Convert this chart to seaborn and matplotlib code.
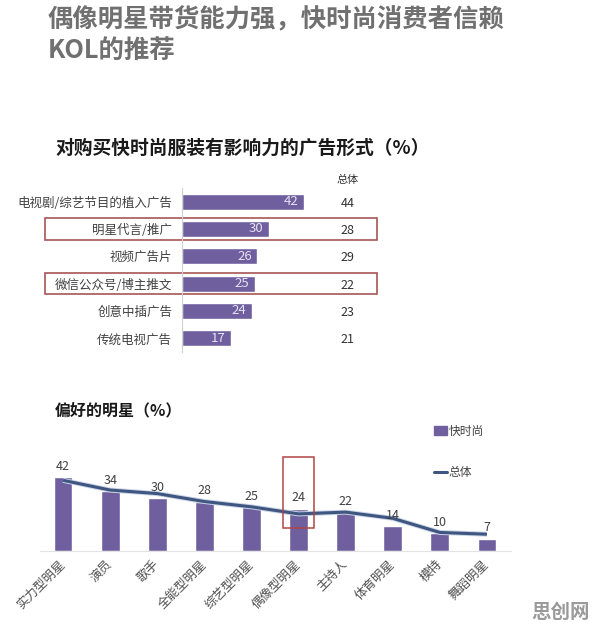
import numpy as np
import matplotlib
matplotlib.use("Agg")
import matplotlib.pyplot as plt
import matplotlib.transforms as mtransforms
import matplotlib.patheffects as pe
from matplotlib.patches import Rectangle, Patch
from matplotlib.lines import Line2D
import seaborn as sns

# 数据
ad_types = ["电视剧/综艺节目的植入广告", "明星代言/推广", "视频广告片",
            "微信公众号/博主推文", "创意中插广告", "传统电视广告"]
ad_fast = [42, 30, 26, 25, 24, 17]
ad_total = [44, 28, 29, 22, 23, 21]

stars = ["实力型明星", "演员", "歌手", "全能型明星", "综艺型明星",
         "偶像型明星", "主持人", "体育明星", "模特", "舞蹈明星"]
star_fast = [42, 34, 30, 28, 25, 24, 22, 14, 10, 7]
star_total = [40, 34.5, 32.5, 28, 25, 21, 22, 18.5, 10.5, 9.5]

PURPLE = "#6f5f9f"
LINE = "#3e5680"
W, H = 596, 632

sns.set_style("white")
plt.rcParams["font.family"] = ["Noto Sans CJK SC", "DejaVu Sans"]


def box(l, t, r, b):
    return [l / W, 1 - b / H, (r - l) / W, (b - t) / H]


fig = plt.figure(figsize=(W / 100, H / 100), dpi=100)

# 标题
fig.text(48 / W, 1 - 20 / H, "偶像明星带货能力强，快时尚消费者信赖",
         fontsize=18.3, weight="bold", color="#707070", va="center")
fig.text(48 / W, 1 - 50 / H, "KOL的推荐",
         fontsize=18.3, weight="bold", color="#707070", va="center")

# 1) 广告形式
fig.text(55 / W, 1 - 148 / H, "对购买快时尚服装有影响力的广告形式（%）",
         fontsize=13.5, weight="bold", color="#1a1a1a", va="center")

ax1 = fig.add_axes(box(182, 188, 330, 352))
sns.barplot(x=ad_fast, y=ad_types, orient="h", color=PURPLE,
            saturation=1, width=0.58, ax=ax1)
ax1.set_xlim(0, 51)
ax1.set_ylim(5.5, -0.5)
ax1.set_xlabel("")
ax1.set_ylabel("")
ax1.xaxis.set_visible(False)
for s in ["top", "right", "bottom"]:
    ax1.spines[s].set_visible(False)
ax1.spines["left"].set_color("#d0d0d0")
ax1.tick_params(axis="y", which="major", length=0, pad=7,
                labelsize=9, labelcolor="#404040")
ax1.set_yticks(np.arange(-0.5, len(ad_types), 1), minor=True)
ax1.tick_params(axis="y", which="minor", length=3, color="#cccccc")

for i, v in enumerate(ad_fast):
    ax1.annotate(str(v), (v, i), xytext=(-4, 0), textcoords="offset points",
                 ha="right", va="center", fontsize=9.5, color="#e6e3f2")

trans = mtransforms.blended_transform_factory(ax1.transAxes, ax1.transData)
ax1.text(1.12, -0.8, "总体", transform=trans, ha="center", va="center",
         fontsize=8, color="#333333")
for i, v in enumerate(ad_total):
    ax1.text(1.12, i + 0.05, str(v), transform=trans, ha="center",
             va="center", fontsize=9, color="#333333")

for row in [1, 3]:
    ax1.add_patch(Rectangle((-0.926, row - 0.39), 2.244, 0.78,
                            transform=trans, fill=False, ec="#a85555",
                            lw=1.2, clip_on=False))

# 2) 偏好的明星
fig.text(55 / W, 1 - 410 / H, "偏好的明星（%）",
         fontsize=11.5, weight="bold", color="#1a1a1a", va="center")

ax2 = fig.add_axes(box(39.5, 445, 510.5, 551))
sns.barplot(x=stars, y=star_fast, color=PURPLE, saturation=1,
            width=0.4, ax=ax2)
ax2.plot(np.arange(len(stars)), star_total, color=LINE, lw=2.2,
         solid_capstyle="butt",
         path_effects=[pe.Stroke(linewidth=3.6, foreground="#c9d3e6"),
                       pe.Normal()])
ax2.bar_label(ax2.containers[0], padding=3, fontsize=9, color="#404040")
ax2.set_ylim(0, 60)
ax2.set_xlim(-0.5, len(stars) - 0.5)
ax2.set_xlabel("")
ax2.set_ylabel("")
ax2.yaxis.set_visible(False)
for s in ["top", "right", "left"]:
    ax2.spines[s].set_visible(False)
ax2.spines["bottom"].set_color("#e3e3e3")
ax2.tick_params(axis="x", length=0, pad=8, labelsize=9, labelcolor="#505050")
for lab in ax2.get_xticklabels():
    lab.set_rotation(45)
    lab.set_ha("right")
    lab.set_va("center")
    lab.set_rotation_mode("anchor")

ax2.add_patch(Rectangle((4.67, 13), 0.66, 40, fill=False, ec="#b04545",
                        lw=1.1, zorder=5, clip_on=False))

handles = [Patch(color=PURPLE), Line2D([], [], color=LINE, lw=2.2)]
fig.legend(handles, ["快时尚", "总体"], loc="upper left",
           bbox_to_anchor=(423 / W, 1 - 414 / H), frameon=False,
           labelspacing=2.4, handlelength=1.1, handletextpad=0.2,
           fontsize=8.5, labelcolor="#404040")

fig.text(590 / W, 1 - 612 / H, "思创网", ha="right", va="center",
         fontsize=14, weight="bold", color="#9a9a9a")

fig.savefig("out.png", dpi=100, facecolor="white")
